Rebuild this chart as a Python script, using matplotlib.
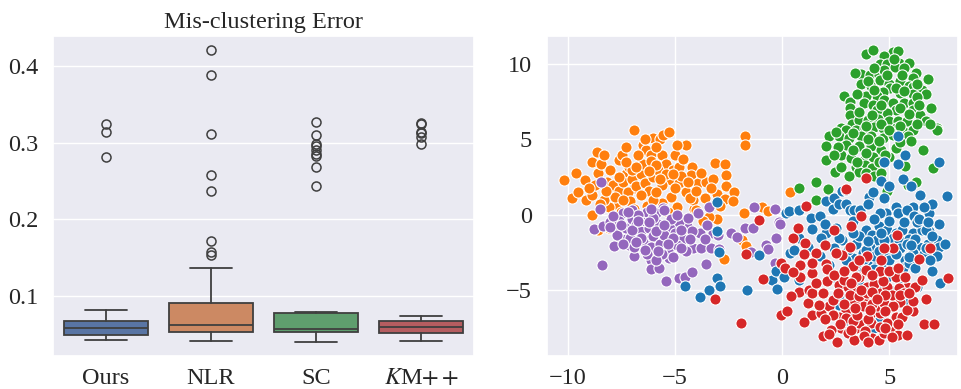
import matplotlib
matplotlib.use("Agg")
import matplotlib.pyplot as plt
import numpy as np
import seaborn as sns

# Box statistics per method (mis-clustering error)
methods = ["Ours", "NLR", "SC", "$K$M$++$"]
whislo = [0.0415, 0.0406, 0.0393, 0.0406]
q1 = [0.0489, 0.0520, 0.0520, 0.0516]
med = [0.0581, 0.0616, 0.0559, 0.0585]
q3 = [0.0664, 0.0908, 0.0777, 0.0673]
whishi = [0.0816, 0.1357, 0.0786, 0.0738]
fliers = [
    [0.3246, 0.3136, 0.2809],
    [0.4218, 0.3887, 0.3115, 0.2574, 0.2373, 0.1715, 0.1575, 0.1532],
    [0.3267, 0.3097, 0.2984, 0.2962, 0.2910, 0.2853, 0.2827, 0.2687, 0.2439],
    [0.3254, 0.3240, 0.3145, 0.3123, 0.3080, 0.2984],
]

# 2-D embedding, one array of (x, y) per cluster
orange_pts = np.array([
    (-10.15, 2.3), (-9.8, 1.1), (-9.5, 1.5), (-9.6, 2.8), (-9.2, 2.3), (-9.15, 1.0),
    (-8.85, 1.35), (-8.85, 0.0), (-8.85, 3.5), (-8.65, 4.15), (-8.6, 2.8), (-8.6, -1.0),
    (-8.45, 3.4), (-8.3, 4.0), (-8.15, 2.2), (-8.05, -0.9), (-7.75, 1.8), (-7.6, 3.65),
    (-7.45, 3.95), (-7.3, 4.5), (-7.3, 2.7), (-6.9, 5.6), (-7.15, 3.2), (-6.9, 1.75),
    (-6.5, 4.6), (-6.35, 4.3), (-6.25, 3.1), (-6.1, 4.0), (-6.0, 5.1), (-5.7, 5.0),
    (-5.55, 5.3), (-5.25, 5.5), (-5.6, 3.95), (-5.4, 3.4), (-5.1, 3.0), (-4.8, 3.2),
    (-5.2, 2.3), (-4.8, 2.1), (-4.5, 4.65), (-4.2, 3.2), (-4.25, 2.65), (-3.9, 2.1),
    (-3.55, 2.15), (-3.6, 1.1), (-3.2, 2.4), (-3.15, 3.45), (-3.05, 1.4), (-2.65, 3.4),
    (-2.6, 2.65), (-2.6, 1.9), (-2.65, 1.05), (-2.25, 1.5), (-1.75, 5.25), (-1.75, 4.65),
    (-1.8, 0.15), (-1.85, -1.65), (-1.7, -2.05), (-0.95, 0.55), (-0.65, 0.25), (0.35, 1.5),
    (-2.7, -2.9), (-3.05, -0.25), (-3.4, -0.15), (-4.1, 0.4), (-4.15, 1.0), (-7.75, 0.75),
    (-7.75, -1.0), (-8.05, 0.55), (-8.3, 1.0),
    (-7.9, 2.0), (-7.6, 1.6), (-7.4, 2.2), (-7.2, 1.5), (-7.0, 2.4), (-6.8, 1.9),
    (-6.6, 2.7), (-6.4, 2.1), (-6.2, 1.6), (-6.0, 2.5), (-5.8, 3.0), (-5.6, 2.0),
    (-5.4, 2.7), (-5.2, 1.2), (-5.0, 1.8), (-4.7, 2.6), (-4.5, 1.5), (-6.5, 3.4),
    (-6.1, 3.6), (-5.9, 3.3), (-7.0, 3.0), (-7.3, 3.5), (-6.7, 4.0), (-5.0, 4.0),
    (-4.6, 3.7), (-7.8, 1.2), (-8.2, 1.6), (-7.1, 0.9), (-6.3, 0.6), (-5.6, 0.8),
    (-4.9, 0.5), (-4.3, 1.1), (-8.5, 0.7), (-7.5, 0.2), (-6.9, 0.4), (-6.0, 1.0),
    (-5.3, 0.2), (-4.0, 0.3), (-3.7, -0.4), (-4.6, -1.0), (-5.8, -2.2), (-6.3, -1.9),
    (-8.0, 3.0), (-7.6, 2.5), (-6.8, 3.2), (-6.2, 2.9), (-5.7, 2.4), (-5.1, 2.7),
    (-4.4, 2.2), (-4.0, 1.6), (-3.3, 1.8), (-6.6, 1.3), (-5.9, 1.5), (-7.4, 1.0),
    (-8.7, 2.0), (-9.0, 1.8), (-6.4, 5.0), (-5.9, 4.5), (-4.9, 4.6), (-3.8, 2.8),
    (-2.9, 0.6), (-2.3, 0.9),
])

purple_pts = np.array([
    (-8.45, 2.15), (-8.5, 0.4), (-8.75, -0.95), (-8.35, -0.75), (-8.4, -3.35), (-8.0, -0.45),
    (-7.85, -2.05), (-7.7, -1.2), (-7.4, 0.1), (-7.3, -1.6), (-7.15, -2.0), (-7.0, 0.35),
    (-6.9, -2.75), (-6.8, -1.2), (-6.6, -0.35), (-6.4, -1.65), (-6.25, -2.55), (-6.1, -3.0),
    (-6.1, -3.6), (-5.75, -3.55), (-5.7, -2.55), (-5.55, 0.45), (-5.4, -4.35), (-5.25, -2.85),
    (-5.1, -0.35), (-4.8, -1.25), (-4.8, -4.2), (-4.55, -4.1), (-4.2, -3.8), (-4.45, -0.75),
    (-4.15, -2.2), (-3.9, 0.1), (-3.8, -2.2), (-3.85, -1.2), (-3.55, -3.25), (-3.4, 0.55),
    (-3.3, -2.2), (-3.2, -1.2), (-3.0, -1.35), (-2.95, -2.25), (-2.4, -1.2), (-2.1, -1.45),
    (-1.75, -0.9), (-1.35, -0.9), (-1.3, 0.55), (-1.45, -2.45), (-0.75, -2.0), (-0.65, -2.25),
    (-0.35, 0.4), (-0.3, -1.55), (-0.15, -0.45), (-0.08, -0.6), (-0.35, -3.2), (3.2, -5.65),
    (-7.6, -0.4), (-7.3, -0.9), (-7.0, -0.3), (-6.8, -0.7), (-6.6, -1.1), (-6.4, -0.4),
    (-6.2, -0.9), (-6.0, -1.4), (-5.8, -0.6), (-5.6, -1.0), (-5.4, -1.6), (-5.2, -0.8),
    (-5.0, -1.2), (-4.8, -0.5), (-4.6, -1.6), (-6.5, -1.8), (-6.1, -2.1), (-5.7, -1.9),
    (-5.3, -2.3), (-4.9, -2.0), (-7.1, -1.5), (-6.9, -2.1), (-5.9, 0.1), (-5.5, 0.3),
    (-6.3, 0.2), (-6.7, 0.0), (-7.2, 0.2), (-4.4, -0.2), (-4.2, -1.1), (-5.1, -2.8),
    (-5.6, -2.6), (-6.3, -2.6), (-5.9, -3.0), (-7.7, -1.3), (-8.0, -0.8), (-6.0, -0.2),
    (-5.2, -0.3), (-4.5, -2.4), (-6.6, -1.5), (-5.5, -1.3),
    (-7.9, -0.1), (-7.5, -0.7), (-7.0, -1.0), (-6.7, -0.4), (-6.2, -0.5), (-5.9, -1.1),
    (-5.5, -0.7), (-5.1, -1.5), (-4.7, -1.0), (-4.3, -1.6), (-6.8, -1.8), (-6.4, -2.3),
    (-5.8, -2.4), (-5.3, -1.9), (-4.7, -2.2), (-7.4, -1.9), (-4.9, 0.0), (-6.1, 0.4),
    (-3.6, -1.6), (-3.5, -0.7),
])

green_pts = np.array([
    (3.9, 10.65), (4.25, 10.95), (5.15, 10.8), (5.4, 10.85), (4.75, 10.5), (4.55, 10.0),
    (4.9, 10.0), (5.45, 10.05), (5.9, 10.05), (3.7, 9.35), (4.1, 9.25), (4.5, 9.25),
    (4.75, 9.6), (5.25, 9.8), (5.7, 9.7), (6.25, 9.4), (6.1, 9.05), (3.7, 8.7),
    (4.15, 8.55), (4.55, 8.95), (5.0, 8.7), (5.5, 8.85), (5.9, 8.55), (6.1, 8.45),
    (6.5, 8.25), (6.7, 8.0), (6.1, 8.0), (5.5, 8.05), (5.05, 8.4), (4.7, 8.15),
    (4.4, 7.9), (3.9, 7.85), (2.9, 7.85), (3.15, 7.5), (3.15, 7.05), (3.8, 7.4),
    (4.25, 7.3), (4.75, 7.6), (5.15, 7.4), (5.7, 7.4), (6.1, 7.4), (6.95, 7.1),
    (6.1, 6.95), (5.3, 6.95), (4.9, 6.75), (4.4, 6.95), (3.15, 6.6), (3.25, 6.05),
    (3.6, 6.3), (4.0, 6.3), (4.45, 6.35), (5.0, 6.2), (5.4, 6.25), (5.8, 6.2),
    (6.45, 6.6), (6.7, 6.25), (7.2, 5.75), (2.75, 5.75), (3.0, 5.65), (3.45, 5.65),
    (3.85, 5.75), (4.3, 5.8), (4.7, 5.75), (5.3, 5.75), (5.7, 5.5), (6.1, 5.65),
    (2.2, 5.2), (2.65, 5.2), (3.1, 5.1), (3.7, 5.2), (4.15, 5.2), (4.7, 5.1),
    (5.15, 5.3), (5.85, 5.2), (2.05, 4.55), (3.0, 4.65), (3.6, 4.55), (4.15, 4.55),
    (4.6, 4.3), (5.3, 4.4), (6.55, 4.3), (2.05, 3.65), (2.75, 3.95), (3.2, 3.75),
    (3.8, 3.65), (4.25, 3.85), (5.0, 3.85), (2.45, 2.85), (2.75, 3.2), (3.45, 3.2),
    (3.85, 3.3), (4.2, 3.1), (3.6, 2.85), (3.9, 2.75), (4.3, 2.55), (5.75, 3.25),
    (7.05, 3.1), (7.2, 5.6), (1.6, 2.2), (0.8, 1.8), (1.6, 1.0), (2.15, 1.7),
    (4.9, 1.6), (6.25, 2.2), (5.85, 2.0),
    (4.3, 9.7), (4.9, 9.3), (5.6, 9.3), (4.0, 8.9), (5.3, 8.4), (5.7, 8.2),
    (4.3, 8.3), (3.5, 8.0), (6.3, 7.8), (4.6, 7.3), (5.5, 7.1), (3.6, 6.8),
    (4.2, 6.6), (5.9, 6.7), (6.4, 7.3), (3.9, 5.9), (4.6, 6.0), (5.0, 5.6),
    (5.5, 5.9), (6.3, 6.0), (2.5, 5.5), (3.3, 5.4), (4.0, 5.0), (4.5, 4.9),
    (5.5, 4.8), (6.0, 4.9), (2.6, 4.5), (3.3, 4.3), (3.9, 4.1), (4.8, 4.0),
    (2.4, 4.0), (3.5, 3.5), (4.5, 3.5), (3.1, 2.6), (4.6, 2.8), (6.8, 9.0),
    (6.3, 8.7), (5.2, 10.3), (3.4, 9.4), (6.9, 6.0),
])

blue_pts = np.array([
    (-3.05, 0.85), (-3.05, -1.1), (-2.95, -2.45), (-3.05, -4.2), (-2.9, -4.7), (-3.4, -4.95),
    (-3.85, -5.45), (-4.55, -4.7), (-1.65, -4.95), (-1.1, -2.65), (-0.45, -4.3), (-0.3, -3.75),
    (-0.25, -4.9), (0.1, -4.1), (0.35, -2.55), (0.2, 0.1), (0.3, 0.25),
    (0.8, 0.3), (1.35, -0.2), (1.4, -0.95), (1.75, -0.1), (2.05, 0.9), (2.05, -1.2),
    (1.8, -1.5), (1.75, -2.75), (0.8, -1.55), (0.55, -2.3), (0.8, -4.3), (2.4, 1.1),
    (2.35, 0.4), (2.65, 0.75), (2.8, 1.55), (3.0, 0.75), (3.15, 0.35), (3.0, 1.65),
    (3.35, 0.35), (3.65, 0.35), (4.05, 1.2), (4.25, 1.5), (4.75, 1.15), (4.6, 2.25),
    (4.75, 3.5), (5.4, 5.25), (5.4, 3.4), (5.75, 3.95), (5.65, 2.35), (6.0, 1.9),
    (6.45, 1.35), (7.3, 3.5), (7.7, 1.25), (7.0, 0.75), (6.1, 0.5), (5.3, 0.55),
    (4.85, 0.1), (4.55, 0.1), (4.0, 0.75),
    (3.9, -1.0), (4.2, -1.3), (4.5, -0.75), (4.9, -1.0), (5.3, -1.2), (5.6, -1.0),
    (6.1, -1.2), (6.5, -1.0), (6.85, -1.1), (7.2, -1.65), (7.3, -2.1), (7.2, -2.7),
    (7.0, -3.75), (7.35, -4.5), (6.8, -1.9), (6.4, -2.1), (6.1, -2.55), (5.75, -3.0),
    (5.65, -3.55), (5.55, -4.2), (5.15, -2.65), (4.85, -2.1), (4.4, -1.65), (4.1, -2.1),
    (3.75, -2.55), (3.45, -1.9), (3.3, -2.85), (3.05, -2.3), (2.8, -1.65), (2.65, -1.55),
    (2.5, -0.9), (3.15, -3.4), (3.5, -3.4), (3.8, -3.75), (4.15, -3.2), (4.45, -3.2),
    (4.75, -3.4), (5.2, -3.65), (5.9, -3.2), (6.3, -4.75), (2.8, -5.4), (2.65, -5.95),
    (2.9, -7.05), (3.3, -6.4), (3.9, -6.05), (4.15, -5.65), (4.55, -6.75), (5.75, -5.75),
    (4.9, -4.1), (5.4, 0.1), (5.8, 0.35), (6.15, -0.1), (6.85, 0.1), (7.0, 0.75),
    (6.7, -1.0), (5.15, -1.55), (5.45, -1.65), (4.75, -1.65), (4.7, -2.55), (4.3, -2.75),
    (5.0, -3.0), (3.9, -2.3), (5.9, -1.6), (6.3, -0.5), (5.5, -2.2), (6.6, -2.6),
    (4.3, -0.3), (5.0, -0.4), (5.7, -0.5), (6.4, -0.3), (7.3, -0.6), (3.6, -1.4),
    (4.6, -1.2), (5.8, -1.9), (6.2, -1.6), (7.0, -1.4), (3.3, -1.2), (4.0, -1.7),
    (5.3, -2.6), (6.0, -2.0), (6.7, -2.2), (3.8, -2.9), (4.5, -2.4), (5.9, -2.8),
    (6.9, -3.0), (3.0, -3.0), (4.3, -3.6), (6.2, -3.5), (2.4, -2.2), (2.0, -0.6),
    (1.2, -2.1), (2.2, -3.3), (3.6, -4.6), (4.6, -4.5), (5.3, -5.0), (2.6, -4.4),
    (3.3, -0.4), (6.6, 0.5), (5.0, 1.9), (6.8, -0.5), (7.6, -1.9), (3.1, -5.3),
    (4.0, -5.0), (4.3, -7.5), (5.0, -6.0),
])

red_pts = np.array([
    (-1.9, -7.15), (-3.15, -5.55), (-1.7, -2.6), (-1.1, -0.35), (-0.9, -4.25), (-0.05, -3.2),
    (0.15, -3.55), (-0.05, -6.6), (0.25, -6.4), (0.5, -1.55), (0.75, -0.9), (1.05, -1.85),
    (1.1, 0.6), (0.85, -3.3), (0.8, -5.1), (0.85, -4.1), (1.25, -4.95), (1.4, -3.85),
    (1.2, -5.85), (1.4, -6.6), (1.4, -5.2), (1.9, -5.2), (1.9, -8.05), (2.05, -3.25),
    (2.1, -4.4), (1.8, -6.5), (2.2, -6.05), (2.4, -1.0), (2.55, -8.4), (2.65, -4.65),
    (3.0, 1.7), (3.15, -2.1), (3.2, -0.75), (3.05, -4.75), (2.75, -7.5), (3.05, -7.85),
    (3.35, -8.3), (3.45, -7.5), (3.9, 2.45), (3.7, -0.1), (3.95, -2.75), (3.6, -4.1),
    (3.5, -4.95), (3.95, -4.75), (4.15, -6.5), (3.6, -7.15), (4.2, -8.15), (4.5, -8.3),
    (4.75, -7.85), (5.15, -7.6), (5.4, -7.95), (5.8, -7.95), (4.55, -5.2), (4.9, -4.75),
    (5.3, -4.1), (5.35, -1.3), (5.15, -2.2), (4.75, -2.2), (5.8, -4.75), (6.2, -4.75),
    (5.5, -5.75), (5.3, -6.75), (4.55, -6.5), (4.9, -7.15), (6.7, -5.6), (6.6, -7.2),
    (7.1, -7.2), (7.75, -4.2), (6.9, -2.2), (3.9, -5.65), (3.75, -6.05), (3.35, -5.85),
    (3.0, -6.3), (2.65, -6.75), (3.0, -6.85), (2.35, -6.6), (2.35, -5.65), (3.15, -5.3),
    (3.6, -5.4), (3.95, -5.2), (4.3, -4.55), (4.7, -4.4), (4.4, -6.05), (4.75, -5.85),
    (5.15, -6.05), (5.45, -4.85), (3.3, -3.4), (2.8, -2.65), (2.5, -2.55), (2.1, -3.6),
    (1.6, -2.55), (1.4, -3.2), (3.45, -4.1), (3.9, -3.65), (4.55, -3.75), (5.0, -3.75),
    (5.75, -4.1), (6.1, -6.4), (5.6, -6.75), (4.15, -7.15), (3.85, -7.7), (4.55, -7.4),
    (2.9, -4.3), (4.2, -5.9), (5.1, -5.3), (5.7, -5.2), (4.0, -6.9), (3.3, -7.0),
    (2.6, -5.2), (2.9, -5.9), (3.7, -5.0), (4.2, -5.1), (4.8, -5.3), (5.5, -5.3),
    (2.0, -6.9), (2.7, -7.2), (3.5, -6.6), (4.1, -6.3), (4.8, -6.4), (5.8, -6.3),
    (3.2, -7.6), (3.8, -8.0), (4.8, -7.5), (5.4, -7.2), (2.3, -7.6), (1.6, -4.5),
    (2.4, -4.0), (3.2, -4.5), (4.2, -4.0), (5.4, -3.5), (6.5, -4.3), (6.1, -5.7),
    (2.0, -2.0), (1.0, -2.6), (0.5, -3.8), (1.7, -6.0), (3.6, -3.0), (4.6, -3.0),
    (6.4, -2.9), (4.0, -8.4), (5.1, -8.1), (2.2, -7.9), (0.4, -5.4), (1.0, -7.1),
    (2.9, -3.7), (5.9, -5.2), (4.4, -5.6), (3.4, -6.2),
])

sns.set_theme(style="darkgrid")
plt.rcParams["font.family"] = ["Liberation Serif", "DejaVu Serif"]
plt.rcParams["mathtext.fontset"] = "stix"
plt.rcParams["font.size"] = 17.5

fig = plt.figure(figsize=(9.61, 3.89), dpi=100)
ax1 = fig.add_axes([0.0552, 0.0848, 0.438, 0.8226])
ax2 = fig.add_axes([0.5692, 0.0848, 0.4277, 0.8226])

# left: boxplots
deep = sns.color_palette("deep")
box_colors = [sns.desaturate(c, 0.75) for c in deep[:4]]
edge = "#3f3f3f"
stats = []
for i, name in enumerate(methods):
    stats.append(dict(label=name, whislo=whislo[i], q1=q1[i], med=med[i],
                      q3=q3[i], whishi=whishi[i], fliers=fliers[i]))
bp = ax1.bxp(stats, positions=range(len(methods)), widths=0.8, patch_artist=True,
             showfliers=True,
             boxprops=dict(edgecolor=edge, linewidth=1.3),
             whiskerprops=dict(color=edge, linewidth=1.3),
             capprops=dict(color=edge, linewidth=1.3),
             medianprops=dict(color=edge, linewidth=1.3),
             flierprops=dict(marker="o", markerfacecolor="none",
                             markeredgecolor=edge, markersize=6.5, markeredgewidth=1.1))
for patch, c in zip(bp["boxes"], box_colors):
    patch.set_facecolor(c)
for cap in bp["caps"]:
    mid = np.mean(cap.get_xdata())
    cap.set_xdata([mid - 0.2, mid + 0.2])

ax1.set_xlim(-0.5, 3.5)
ax1.set_ylim(0.0212, 0.4396)
ax1.set_yticks([0.1, 0.2, 0.3, 0.4])
ax1.set_xticks(range(len(methods)))
ax1.set_xticklabels(methods)
ax1.xaxis.grid(False)
ax1.set_title("Mis-clustering Error", fontsize=17.5, pad=6)
ax1.tick_params(axis="y", pad=4.5, labelsize=17.5)
ax1.tick_params(axis="x", pad=2.5, labelsize=17.5)

# right: 2-D embedding coloured by cluster
tab = plt.get_cmap("tab10").colors
for pts, c in [(orange_pts, tab[1]), (purple_pts, tab[4]), (green_pts, tab[2]),
               (blue_pts, tab[0]), (red_pts, tab[3])]:
    ax2.scatter(pts[:, 0], pts[:, 1], s=65, color=c, edgecolors="white", linewidths=0.8)

ax2.set_xlim(-10.96, 8.2)
ax2.set_ylim(-9.35, 11.85)
ax2.set_xticks([-10, -5, 0, 5])
ax2.set_yticks([-5, 0, 5, 10])
ax2.tick_params(axis="y", pad=5, labelsize=17.5)
ax2.tick_params(axis="x", pad=2.5, labelsize=17.5)

fig.savefig("out.png", dpi=100)
